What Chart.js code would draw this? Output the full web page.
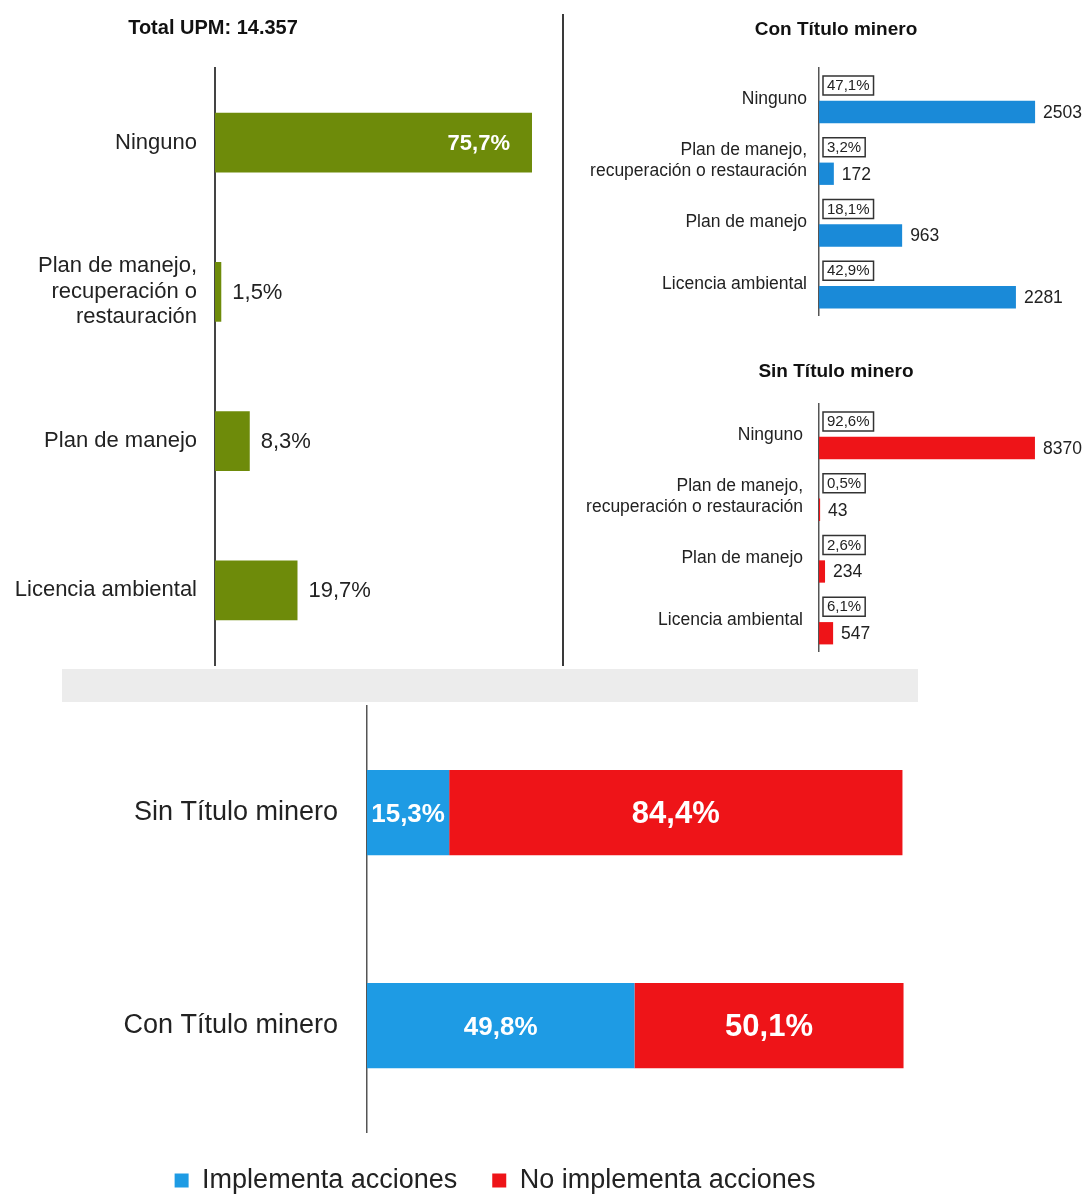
<!DOCTYPE html>
<html>
<head>
<meta charset="utf-8">
<script src="https://cdn.jsdelivr.net/npm/chart.js@4.4.1/dist/chart.umd.min.js"></script>
<style>
    html, body { margin: 0; padding: 0; background: #fff; }
    #page { position: relative; width: 1089px; height: 1196px; overflow: hidden; background: #fff; }
    .band { position: absolute; left: 62px; top: 669px; width: 856px; height: 33px; background: #ececec; }
    .sep { position: absolute; left: 562px; top: 14px; width: 2px; height: 652px; background: #3a3a3a; }
    .box { position: absolute; }
</style>
</head>
<body>
<div id="page">
    <div class="band"></div>
    <div class="sep"></div>
    <div class="box" style="left:0;top:0;width:560px;height:696px"><canvas id="total"></canvas></div>
    <div class="box" style="left:565px;top:0;width:524px;height:338px"><canvas id="con"></canvas></div>
    <div class="box" style="left:565px;top:340px;width:524px;height:338px"><canvas id="sin"></canvas></div>
    <div class="box" style="left:0;top:661px;width:990px;height:535px"><canvas id="acciones"></canvas></div>
</div>
<script>
// data
const totalLabels = ['Ninguno', ['Plan de manejo,', 'recuperación o', 'restauración'], 'Plan de manejo', 'Licencia ambiental'];
const totalPct = [75.7, 1.5, 8.3, 19.7];

const subLabels = ['Ninguno', ['Plan de manejo,', 'recuperación o restauración'], 'Plan de manejo', 'Licencia ambiental'];
const conCount = [2503, 172, 963, 2281];
const conPct = [47.1, 3.2, 18.1, 42.9];
const sinCount = [8370, 43, 234, 547];
const sinPct = [92.6, 0.5, 2.6, 6.1];

const grupos = ['Sin Título minero', 'Con Título minero'];
const implementa = [15.3, 49.8];
const noImplementa = [84.4, 50.1];

const FONT = '"Liberation Sans", Arial, sans-serif';
const GREEN = '#6e8b0a', BLUE = '#1a8ad8', BLUE_LIGHT = '#1e9be4', RED = '#ee1418';

Chart.defaults.font.family = FONT;
Chart.defaults.animation = false;

const $ = s => document.querySelector(s);
const fmt = v => v.toFixed(1).replace('.', ',') + '%';

const base = {
    indexAxis: 'y',
    responsive: true,
    maintainAspectRatio: false,
    events: []
};

// left panel: all UPM
new Chart($('#total'), {
    type: 'bar',
    data: { labels: totalLabels, datasets: [{ data: totalPct, backgroundColor: GREEN }] },
    options: {
        ...base,
        layout: { padding: { top: 68, bottom: 31, right: 10 } },
        datasets: { bar: { categoryPercentage: 1, barPercentage: 0.4 } },
        plugins: { legend: { display: false }, tooltip: { enabled: false } },
        scales: {
            x: { display: false, min: 0, max: 80 },
            y: {
                afterFit: s => { s.width = 215; },
                grid: { display: false, drawTicks: false },
                border: { color: '#444', width: 2 },
                ticks: { color: '#222', padding: 18, font: { size: 22, lineHeight: 1.16 } }
            }
        }
    },
    plugins: [{
        id: 'totalText',
        afterDatasetsDraw(chart) {
            const { ctx } = chart;
            ctx.save();
            ctx.textBaseline = 'middle';
            ctx.textAlign = 'center';
            ctx.fillStyle = '#111';
            ctx.font = `bold 20px ${FONT}`;
            ctx.fillText('Total UPM: 14.357', 213, 28);
            chart.getDatasetMeta(0).data.forEach((bar, i) => {
                const inside = totalPct[i] > 50;
                ctx.font = `${inside ? 'bold ' : ''}22px ${FONT}`;
                ctx.fillStyle = inside ? '#fff' : '#222';
                ctx.textAlign = inside ? 'right' : 'left';
                ctx.fillText(fmt(totalPct[i]), inside ? bar.x - 22 : bar.x + 11, bar.y + 1);
            });
            ctx.restore();
        }
    }]
});

// right panels: with / without mining title
const subChart = (sel, title, titleY, counts, pcts, color, xMax, pad, tickPad) => new Chart($(sel), {
    type: 'bar',
    data: {
        labels: subLabels,
        datasets: [
            { data: counts.map(() => null) }, // empty slot so the bar sits under its label
            { data: counts, backgroundColor: color }
        ]
    },
    options: {
        ...base,
        layout: { padding: pad },
        datasets: { bar: { categoryPercentage: 0.85, barPercentage: 0.85 } },
        plugins: { legend: { display: false }, tooltip: { enabled: false } },
        scales: {
            x: { display: false, min: 0, max: xMax },
            y: {
                afterFit: s => { s.width = 254; },
                grid: { display: false, drawTicks: false },
                border: { color: '#555', width: 1.5 },
                ticks: { color: '#222', padding: tickPad, font: { size: 17.5, lineHeight: 1.2 } }
            }
        }
    },
    plugins: [{
        id: 'subText',
        afterDatasetsDraw(chart) {
            const { ctx, chartArea } = chart;
            ctx.save();
            ctx.textBaseline = 'middle';
            ctx.textAlign = 'center';
            ctx.fillStyle = '#111';
            ctx.font = `bold 19px ${FONT}`;
            ctx.fillText(title, 271, titleY);
            chart.getDatasetMeta(1).data.forEach((bar, i) => {
                ctx.textAlign = 'left';
                ctx.fillStyle = '#222';
                ctx.font = `17.5px ${FONT}`;
                ctx.fillText(counts[i], bar.x + 8, bar.y + 1);
                const t = fmt(pcts[i]);
                ctx.font = `15px ${FONT}`;
                const w = ctx.measureText(t).width + 8, bx = chartArea.left + 4, by = bar.y - 36;
                ctx.fillStyle = '#fff';
                ctx.fillRect(bx, by, w, 19);
                ctx.strokeStyle = '#333';
                ctx.lineWidth = 1.5;
                ctx.strokeRect(bx, by, w, 19);
                ctx.fillStyle = '#222';
                ctx.fillText(t, bx + 4, by + 10);
            });
            ctx.restore();
        }
    }]
});

subChart('#con', 'Con Título minero', 30, conCount, conPct, BLUE, 3000, { top: 68, bottom: 23, right: 11 }, 12);
subChart('#sin', 'Sin Título minero', 32, sinCount, sinPct, RED, 10000, { top: 64, bottom: 27, right: 12 }, 16);

// bottom panel: implements actions or not
new Chart($('#acciones'), {
    type: 'bar',
    data: {
        labels: grupos,
        datasets: [
            { label: 'Implementa acciones', data: implementa, backgroundColor: BLUE_LIGHT, borderWidth: 0 },
            { label: 'No implementa acciones', data: noImplementa, backgroundColor: RED, borderWidth: 0 }
        ]
    },
    options: {
        ...base,
        layout: { padding: { top: 45 } },
        datasets: { bar: { categoryPercentage: 1, barPercentage: 0.4 } },
        plugins: {
            tooltip: { enabled: false },
            legend: {
                position: 'bottom',
                maxHeight: 64,
                labels: { boxWidth: 14, boxHeight: 14, padding: 35, color: '#222', font: { size: 27 } }
            }
        },
        scales: {
            x: { display: false, stacked: true, min: 0, max: 116 },
            y: {
                stacked: true,
                afterFit: s => { s.width = 367; },
                grid: { display: false, drawTicks: false },
                border: { color: '#555', width: 1.5 },
                ticks: { color: '#222', padding: 29, font: { size: 27 } }
            }
        }
    },
    plugins: [{
        id: 'stackText',
        afterDatasetsDraw(chart) {
            const { ctx } = chart;
            ctx.save();
            ctx.textBaseline = 'middle';
            ctx.textAlign = 'center';
            ctx.fillStyle = '#fff';
            [implementa, noImplementa].forEach((vals, d) => {
                ctx.font = `bold ${d ? 31 : 26}px ${FONT}`;
                chart.getDatasetMeta(d).data.forEach((bar, i) => {
                    ctx.fillText(fmt(vals[i]), (bar.x + bar.base) / 2, bar.y + 2);
                });
            });
            ctx.restore();
        }
    }]
});
</script>
</body>
</html>
